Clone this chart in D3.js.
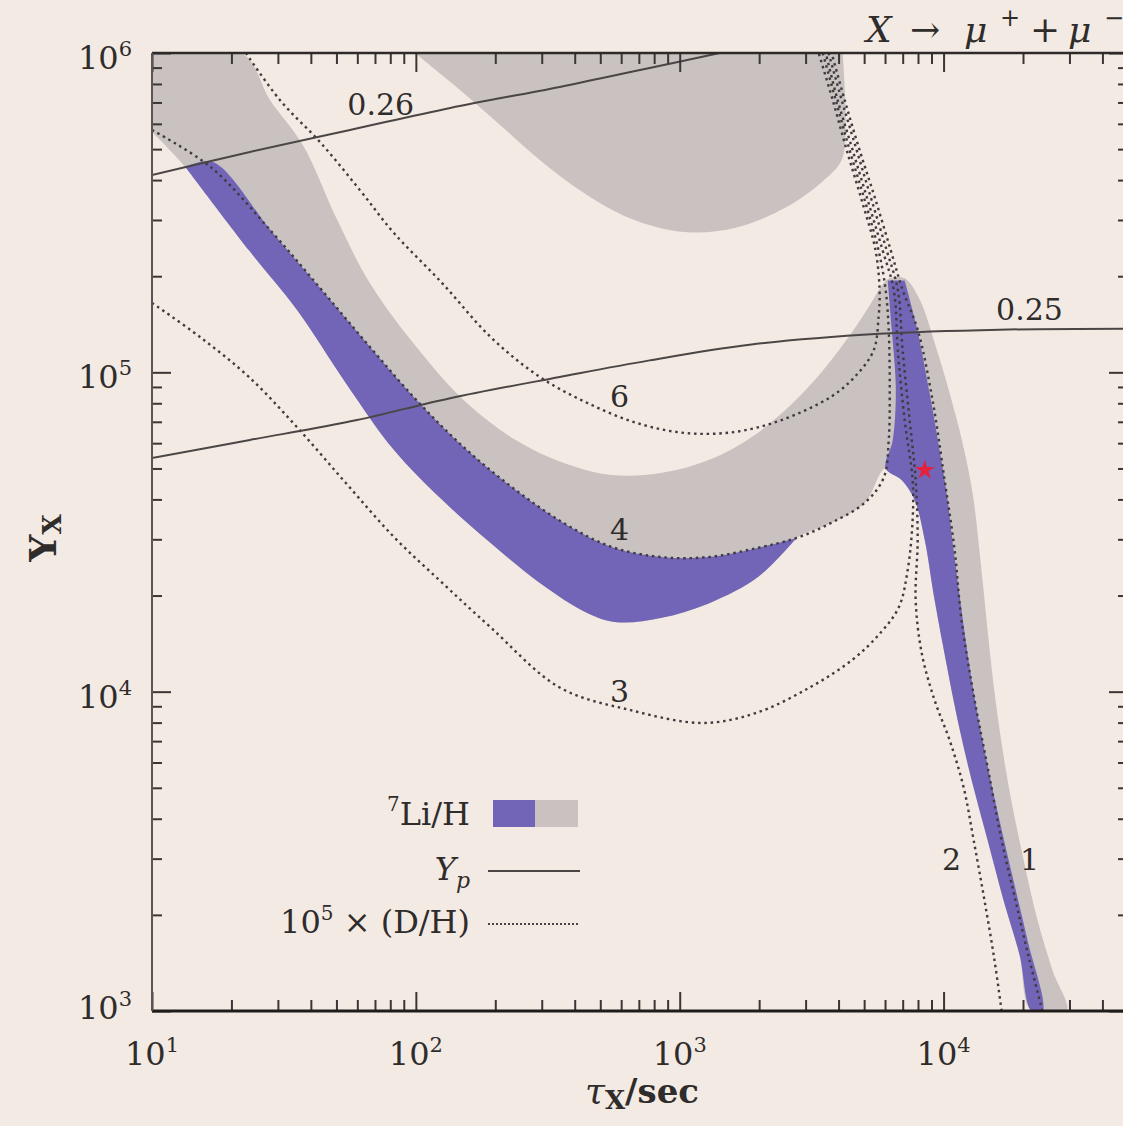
<!DOCTYPE html>
<html>
<head>
<meta charset="utf-8">
<script src="https://cdn.jsdelivr.net/npm/d3@7"></script>
<style>
  body { margin: 0; background: #f3eae3; }
  svg text { font-family: "DejaVu Serif", serif; fill: #2f2c2c; }
</style>
</head>
<body>
<div id="d3-container"></div>
<script>
/**
 * CONSTANTS AND GLOBALS
 * */
const width = 1123,
  height = 1126,
  margin = { top: 53, bottom: 115, left: 152, right: -5 };

const bg = "#f3eae3",
  purple = "#7265b7",
  gray = "#c9c2c1",
  ink = "#2f2c2c";

/**
 * DATA  (tau_X in sec, Y_X)
 * */
const xDomain = [10, 5e4];
const yDomain = [1e3, 1e6];
const xMajor = [1e1, 1e2, 1e3, 1e4];
const yMajor = [1e3, 1e4, 1e5, 1e6];

// Yp contours
const yp026 = [[10, 4.15e5], [23.5, 4.9e5], [56.3, 5.74e5], [135, 6.73e5], [351, 7.83e5], [769, 8.98e5], [1418, 1e6]];
const yp025 = [[10, 5.39e4], [23.5, 6.14e4], [59.8, 7.09e4], [135, 8.3e4], [351, 9.67e4], [769, 1.09e5], [1841, 1.22e5], [5721, 1.32e5], [16290, 1.36e5], [50000, 1.37e5]];

// 10^5 x D/H contours
const dh6 = [[22.7, 1e6], [30.5, 7.13e5], [43.6, 5.23e5], [61.4, 3.72e5], [82.6, 2.73e5], [126, 1.9e5], [192, 1.29e5], [295, 9.67e4], [448, 8.01e4], [687, 6.94e4], [1045, 6.46e4], [1603, 6.5e4], [2432, 7.09e4], [3731, 8.37e4], [4600, 9.67e4], [5428, 1.17e5], [5671, 1.49e5], [5721, 1.81e5], [5522, 2.41e5], [4888, 3.47e5], [4292, 4.97e5], [3799, 7.13e5], [3363, 1e6]];
const dh4 = [[10, 5.74e5], [16.7, 4.39e5], [28.7, 2.73e5], [44.0, 1.81e5], [67.0, 1.2e5], [103, 8.01e4], [156, 5.71e4], [239, 4.28e4], [364, 3.37e4], [552, 2.84e4], [847, 2.64e4], [1288, 2.64e4], [1974, 2.82e4], [2775, 3.03e4], [3731, 3.37e4], [5020, 3.9e4], [5928, 4.67e4], [6196, 6.14e4], [6251, 8.8e4], [6196, 1.36e5], [6033, 1.81e5], [5671, 2.41e5], [5020, 3.47e5], [4403, 4.97e5], [3899, 7.13e5], [3484, 1e6]];
const dh3 = [[10, 1.65e5], [15.2, 1.29e5], [23.3, 9.67e4], [35.4, 6.74e4], [54.3, 4.5e4], [82.6, 3.05e4], [126, 2.19e4], [192, 1.59e4], [351, 1.03e4], [652, 8.75e3], [1222, 7.98e3], [1940, 8.57e3], [3106, 1.03e4], [4520, 1.26e4], [5771, 1.53e4], [6770, 1.84e4], [7309, 2.4e4], [7633, 3.45e4], [7633, 4.6e4], [7121, 7.09e4], [6710, 1.17e5], [6477, 1.81e5], [5875, 2.41e5], [5153, 3.47e5], [4520, 4.97e5], [3966, 7.13e5], [3576, 1e6]];
const dh2 = [[16590, 1e3], [15600, 1.44e3], [14290, 2.22e3], [13000, 3.43e3], [11910, 5.02e3], [10540, 7.05e3], [9243, 9.41e3], [8265, 1.32e4], [7837, 1.94e4], [7977, 2.98e4], [7837, 4.6e4], [7437, 7.09e4], [6996, 1.17e5], [6710, 1.81e5], [6087, 2.41e5], [5333, 3.47e5], [4681, 4.97e5], [4109, 7.13e5], [3667, 1e6]];
const dh1 = [[23710, 1e3], [21170, 1.44e3], [18730, 2.22e3], [16590, 3.43e3], [14680, 5.82e3], [13110, 9.41e3], [11700, 1.67e4], [11010, 2.78e4], [10090, 4.6e4], [9083, 8.18e4], [7977, 1.36e5], [6996, 1.81e5], [6307, 2.41e5], [5522, 3.47e5], [4804, 4.97e5], [4217, 7.13e5], [3765, 1e6]];

// 7Li/H allowed band (purple: also passes D/H and Yp)
const purpleBandTop = [[13.4, 4.39e5], [17.0, 4.56e5], [28.7, 2.73e5], [44.0, 1.81e5], [67.0, 1.2e5], [103, 8.01e4], [156, 5.71e4], [239, 4.28e4], [364, 3.37e4], [552, 2.84e4], [847, 2.64e4], [1288, 2.64e4], [1974, 2.82e4], [2775, 3.03e4]];
const purpleBandBottom = [[13.4, 4.39e5], [23.3, 2.41e5], [35.4, 1.57e5], [54.3, 9.25e4], [82.6, 5.71e4], [126, 3.98e4], [192, 2.92e4], [295, 2.19e4], [448, 1.76e4], [577, 1.65e4], [847, 1.7e4], [1288, 1.89e4], [1974, 2.28e4], [2775, 3.03e4]];
const spikeLeft = [[6141, 1.94e5], [6363, 1.36e5], [6592, 8.8e4], [6420, 6.14e4], [6033, 5.01e4], [6934, 4.6e4], [7769, 3.98e4], [8488, 2.98e4], [9243, 1.94e4], [10180, 1.26e4], [11300, 8.15e3], [12770, 5.29e3], [14680, 3.43e3], [16880, 2.22e3], [19400, 1.5e3], [21540, 1e3]];
const spikeRight = [[7121, 1.94e5], [7907, 1.39e5], [8851, 8.61e4], [9657, 5.71e4], [10270, 4.19e4], [10910, 2.78e4], [11700, 1.8e4], [12770, 1.09e4], [14290, 6.55e3], [16290, 3.96e3], [18390, 2.57e3], [20800, 1.67e3], [23710, 1e3]];
// gray (Li/H only)
const grayUpper = [[10, 1e6], [21.9, 1e6], [28.0, 7.13e5], [37.3, 5.15e5], [49.8, 3.06e5], [67.0, 1.9e5], [103, 1.17e5], [156, 8.01e4], [239, 6.14e4], [364, 5.2e4], [552, 4.77e4], [847, 4.84e4], [1288, 5.31e4], [1974, 6.46e4], [3000, 8.8e4], [4217, 1.24e5], [5198, 1.6e5], [5928, 1.9e5], [6251, 1.97e5], [7121, 1.97e5], [8119, 1.69e5], [9243, 1.24e5], [10540, 8.61e4], [11800, 6.01e4], [12880, 4.19e4], [13800, 2.58e4], [14680, 1.56e4], [15730, 9.41e3], [17480, 5.29e3], [19740, 3.19e3], [22690, 1.93e3], [25880, 1.34e3], [29250, 1e3]];
const grayLink = [[5020, 3.9e4], [3731, 3.37e4]];
const grayLeftEdge = [[10, 5.66e5]];
const grayBlob = [[99.1, 1e6], [147, 7.66e5], [208, 5.96e5], [295, 4.62e5], [418, 3.72e5], [647, 3.04e5], [1045, 2.75e5], [1616, 2.83e5], [2500, 3.27e5], [3452, 3.94e5], [4109, 4.62e5], [4255, 6.17e5], [4143, 1e6]];

const bestFit = [8488, 4.94e4];

const dhLabels = [
  { t: "6", tau: 592, Y: 7.78e4 },
  { t: "4", tau: 592, Y: 2.98e4 },
  { t: "3", tau: 592, Y: 9.27e3 },
  { t: "2", tau: 10720, Y: 2.76e3 },
  { t: "1", tau: 21170, Y: 2.76e3 }
];
const ypLabels = [
  { t: "0.26", tau: 73.6, Y: 6.4e5 },
  { t: "0.25", tau: 21170, Y: 1.46e5 }
];

/**
 * INIT
 * */
function init() {
  const x = d3.scaleLog().domain(xDomain).range([margin.left, width - margin.right]);
  const y = d3.scaleLog().domain(yDomain).range([height - margin.bottom, margin.top]);

  const svg = d3.select("#d3-container")
    .append("svg")
    .attr("width", width)
    .attr("height", height);

  svg.append("rect").attr("width", width).attr("height", height).attr("fill", bg);

  svg.append("clipPath").attr("id", "plot")
    .append("rect")
    .attr("x", x(xDomain[0])).attr("y", y(yDomain[1]))
    .attr("width", x(xDomain[1]) - x(xDomain[0]))
    .attr("height", y(yDomain[0]) - y(yDomain[1]));

  const line = d3.line()
    .x(d => x(d[0]))
    .y(d => y(d[1]))
    .curve(d3.curveCatmullRom.alpha(0.5));

  const plot = svg.append("g").attr("clip-path", "url(#plot)");

  // regions
  const grayBand = grayUpper.concat(
    spikeLeft.slice(4).reverse(),
    grayLink,
    purpleBandBottom.slice().reverse(),
    grayLeftEdge
  );
  plot.append("path").attr("d", line(grayBand) + "Z").attr("fill", gray);
  plot.append("path").attr("d", line(grayBlob) + "Z").attr("fill", gray);
  plot.append("path")
    .attr("d", line(purpleBandTop.concat(purpleBandBottom.slice().reverse())) + "Z")
    .attr("fill", purple);
  plot.append("path")
    .attr("d", line(spikeLeft.concat(spikeRight.slice().reverse())) + "Z")
    .attr("fill", purple);

  // D/H contours
  plot.selectAll(".dh")
    .data([dh6, dh4, dh3, dh2, dh1])
    .join("path")
    .attr("class", "dh")
    .attr("d", line)
    .attr("fill", "none")
    .attr("stroke", "#403b3e")
    .attr("stroke-width", 2.4)
    .attr("stroke-dasharray", "2.5 3.8");

  // Yp contours
  plot.selectAll(".yp")
    .data([yp026, yp025])
    .join("path")
    .attr("class", "yp")
    .attr("d", line)
    .attr("fill", "none")
    .attr("stroke", "#4a4646")
    .attr("stroke-width", 2);

  plot.append("path")
    .attr("transform", `translate(${x(bestFit[0])},${y(bestFit[1])})`)
    .attr("d", d3.symbol().type(d3.symbolStar).size(120))
    .attr("fill", "#e3233d");

  svg.selectAll(".dhlab")
    .data(dhLabels)
    .join("text")
    .attr("x", d => x(d.tau))
    .attr("y", d => y(d.Y))
    .attr("text-anchor", "middle")
    .attr("font-size", 30)
    .text(d => d.t);

  svg.selectAll(".yplab")
    .data(ypLabels)
    .join("text")
    .attr("x", d => x(d.tau))
    .attr("y", d => y(d.Y))
    .attr("text-anchor", "middle")
    .attr("font-size", 30)
    .text(d => d.t);

  // ticks (pointing inward on all four sides)
  const minors = d3.range(1, 5).flatMap(e => d3.range(2, 10).map(m => m * Math.pow(10, e)))
    .filter(v => v < xDomain[1]);
  const yMinors = d3.range(3, 6).flatMap(e => d3.range(2, 10).map(m => m * Math.pow(10, e)));

  const tickStyle = g => {
    g.select(".domain").remove();
    g.selectAll("line").attr("stroke", "#3a3636").attr("stroke-width", 2);
  };
  const bottomY = y(yDomain[0]), topY = y(yDomain[1]);
  const leftX = x(xDomain[0]), rightX = x(xDomain[1]);

  svg.append("g").attr("transform", `translate(0,${bottomY})`)
    .call(d3.axisBottom(x).tickValues(xMajor).tickSize(-19).tickFormat("")).call(tickStyle);
  svg.append("g").attr("transform", `translate(0,${bottomY})`)
    .call(d3.axisBottom(x).tickValues(minors).tickSize(-11).tickFormat("")).call(tickStyle);
  svg.append("g").attr("transform", `translate(0,${topY})`)
    .call(d3.axisTop(x).tickValues(xMajor).tickSize(-19).tickFormat("")).call(tickStyle);
  svg.append("g").attr("transform", `translate(0,${topY})`)
    .call(d3.axisTop(x).tickValues(minors).tickSize(-11).tickFormat("")).call(tickStyle);
  svg.append("g").attr("transform", `translate(${leftX},0)`)
    .call(d3.axisLeft(y).tickValues(yMajor).tickSize(-19).tickFormat("")).call(tickStyle);
  svg.append("g").attr("transform", `translate(${leftX},0)`)
    .call(d3.axisLeft(y).tickValues(yMinors).tickSize(-10).tickFormat("")).call(tickStyle);
  svg.append("g").attr("transform", `translate(${rightX},0)`)
    .call(d3.axisRight(y).tickValues(yMajor).tickSize(-19).tickFormat("")).call(tickStyle);
  svg.append("g").attr("transform", `translate(${rightX},0)`)
    .call(d3.axisRight(y).tickValues(yMinors).tickSize(-10).tickFormat("")).call(tickStyle);

  // frame
  svg.append("line").attr("x1", leftX).attr("x2", rightX).attr("y1", topY).attr("y2", topY)
    .attr("stroke", "#2e2a2a").attr("stroke-width", 2.5);
  svg.append("line").attr("x1", leftX).attr("x2", rightX).attr("y1", bottomY).attr("y2", bottomY)
    .attr("stroke", "#1f1c1c").attr("stroke-width", 3);
  svg.append("line").attr("x1", leftX).attr("x2", leftX).attr("y1", topY).attr("y2", bottomY)
    .attr("stroke", "#5a5555").attr("stroke-width", 2);
  svg.append("line").attr("x1", rightX).attr("x2", rightX).attr("y1", topY).attr("y2", bottomY)
    .attr("stroke", "#5a5555").attr("stroke-width", 2);

  // tick labels
  svg.selectAll(".xlab")
    .data(xMajor)
    .join("text")
    .attr("x", d => x(d))
    .attr("y", bottomY + 54)
    .attr("text-anchor", "middle")
    .attr("font-size", 32)
    .each(function (d) {
      const t = d3.select(this);
      t.append("tspan").text("10");
      t.append("tspan").attr("font-size", 21).attr("dy", -13).text(Math.round(Math.log10(d)));
    });

  svg.selectAll(".ylab")
    .data(yMajor)
    .join("text")
    .attr("x", leftX - 20)
    .attr("y", d => y(d) + (d === yDomain[0] ? 8 : 16))
    .attr("text-anchor", "end")
    .attr("font-size", 32)
    .each(function (d) {
      const t = d3.select(this);
      t.append("tspan").text("10");
      t.append("tspan").attr("font-size", 21).attr("dy", -13).text(Math.round(Math.log10(d)));
    });

  // axis titles
  const xt = svg.append("text")
    .attr("x", 642).attr("y", bottomY + 92)
    .attr("text-anchor", "middle");
  xt.append("tspan").attr("font-style", "italic").attr("font-size", 36).text("τ");
  xt.append("tspan").attr("font-weight", "bold").attr("font-size", 26).attr("dy", 6).text("X");
  xt.append("tspan").attr("font-weight", "bold").attr("font-size", 34).attr("dy", -6).text("/sec");

  const yt = svg.append("text")
    .attr("transform", `translate(56,${(topY + bottomY) / 2 + 6}) rotate(-90)`)
    .attr("text-anchor", "middle");
  yt.append("tspan").attr("font-weight", "bold").attr("font-size", 38).text("Y");
  yt.append("tspan").attr("font-weight", "bold").attr("font-size", 26).attr("dy", 5).text("X");

  // channel title, X -> mu+ + mu-
  const tt = svg.append("g").attr("font-size", 36);
  tt.append("text").attr("x", 866).attr("y", 42).attr("font-style", "italic").text("X");
  tt.append("text").attr("x", 910).attr("y", 42).text("→");
  tt.append("text").attr("x", 964).attr("y", 42).attr("font-style", "italic").text("μ");
  tt.append("text").attr("x", 1000).attr("y", 26).attr("font-size", 24).text("+");
  tt.append("text").attr("x", 1030).attr("y", 42).text("+");
  tt.append("text").attr("x", 1068).attr("y", 42).attr("font-style", "italic").text("μ");
  tt.append("text").attr("x", 1104).attr("y", 26).attr("font-size", 24).text("−");

  // legend
  const lg = svg.append("g");
  const lx = 470, sx = 490;
  const l1 = lg.append("text").attr("x", lx).attr("y", 825).attr("text-anchor", "end").attr("font-size", 32);
  l1.append("tspan").attr("font-size", 20).attr("dy", -14).text("7");
  l1.append("tspan").attr("dy", 14).text("Li/H");
  lg.append("rect").attr("x", sx + 3).attr("y", 800).attr("width", 42).attr("height", 27).attr("fill", purple);
  lg.append("rect").attr("x", sx + 45).attr("y", 800).attr("width", 43).attr("height", 27).attr("fill", gray);

  const l2 = lg.append("text").attr("x", lx).attr("y", 880).attr("text-anchor", "end").attr("font-size", 32);
  l2.append("tspan").attr("font-style", "italic").text("Y");
  l2.append("tspan").attr("font-style", "italic").attr("font-size", 22).attr("dy", 8).text("p");
  lg.append("line").attr("x1", sx - 2).attr("x2", sx + 90).attr("y1", 871).attr("y2", 871)
    .attr("stroke", "#4a4646").attr("stroke-width", 2);

  const l3 = lg.append("text").attr("x", lx).attr("y", 933).attr("text-anchor", "end").attr("font-size", 32);
  l3.append("tspan").text("10");
  l3.append("tspan").attr("font-size", 20).attr("dy", -13).text("5");
  l3.append("tspan").attr("dy", 13).text(" × (D/H)");
  lg.append("line").attr("x1", sx - 2).attr("x2", sx + 90).attr("y1", 924).attr("y2", 924)
    .attr("stroke", "#4a4548").attr("stroke-width", 2).attr("stroke-dasharray", "2 2");
}

init();
</script>
</body>
</html>
